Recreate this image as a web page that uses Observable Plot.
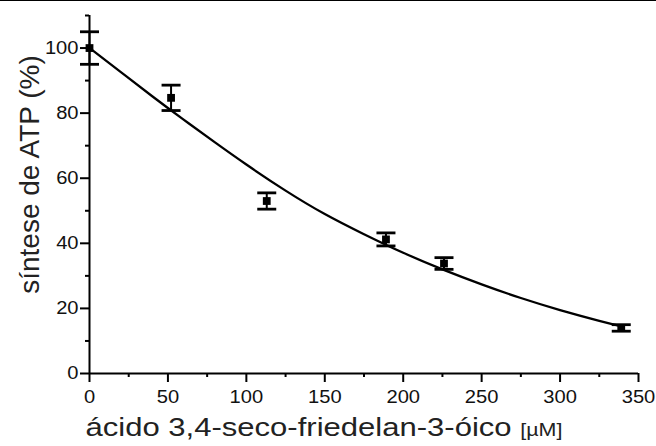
<!DOCTYPE html>
<html><head><meta charset="utf-8">
<script src="https://cdn.jsdelivr.net/npm/d3@7"></script>
<script src="https://cdn.jsdelivr.net/npm/@observablehq/plot@0.6"></script>
<style>
html,body{margin:0;padding:0;background:#fff;}
#chart{width:656px;height:445px;border-top:1px solid #000;}
svg{display:block;}
</style></head><body><div id="chart"></div>
<script>
const concentration = [0, 52, 113, 189, 226, 339];
const atpSynthesis = [100, 84.7, 53, 41.2, 33.8, 14];
const stdError = [5, 3.9, 2.5, 2, 1.8, 1];
const fitConcentration = [0, 20, 40, 60, 80, 100, 125, 150, 175, 200, 225, 250, 275, 300, 325, 340];
const fitSynthesis = [100, 92.6, 85.2, 78, 71, 64.2, 56.2, 49, 42.8, 37.1, 32, 27.4, 23.2, 19.5, 16.2, 14.4];
const xTicks = [0, 50, 100, 150, 200, 250, 300, 350];
const xMinorTicks = [25, 75, 125, 175, 225, 275, 325];
const yTicks = [0, 20, 40, 60, 80, 100];
const yMinorTicks = [10, 30, 50, 70, 90, 110];
const xLabel = "ácido 3,4-seco-friedelan-3-óico";
const xUnit = "[µM]";
const yLabel = "síntese de ATP (%)";

const points = concentration.map((x, i) => ({x, y: atpSynthesis[i], lo: atpSynthesis[i] - stdError[i], hi: atpSynthesis[i] + stdError[i]}));
const fit = fitConcentration.map((x, i) => ({x, y: fitSynthesis[i]}));

const cap = {draw(ctx, size) { const r = Math.sqrt(size / Math.PI); ctx.moveTo(-r, 0); ctx.lineTo(r, 0); }};

const plot = Plot.plot({
  width: 656, height: 445,
  marginLeft: 89, marginRight: 18, marginTop: 14, marginBottom: 73,
  style: {fontFamily: "'Liberation Sans', Arial, sans-serif", color: "#000", background: "#fff"},
  x: {domain: [0, 350]},
  y: {domain: [0, 110]},
  marks: [
    Plot.axisX({ticks: xTicks, tickSize: 9, tickPadding: 8, strokeWidth: 2, fontSize: 17.5, label: null, fill: "#111"}),
    Plot.axisX({ticks: xMinorTicks, tickSize: 4, strokeWidth: 2, tickFormat: () => "", label: null}),
    Plot.axisY({ticks: yTicks, tickSize: 9, tickPadding: 2, strokeWidth: 2, fontSize: 17.5, label: null, fill: "#111"}),
    Plot.axisY({ticks: yMinorTicks, tickSize: 4, strokeWidth: 2, tickFormat: () => "", label: null}),
    Plot.line(fit, {x: "x", y: "y", curve: "natural", strokeWidth: 2.3, stroke: "#000"}),
    Plot.ruleX(points, {x: "x", y1: "lo", y2: "hi", strokeWidth: 2, stroke: "#000"}),
    Plot.dot(points, {x: "x", y: "hi", symbol: cap, r: 9.5, stroke: "#000", strokeWidth: 2.8}),
    Plot.dot(points, {x: "x", y: "lo", symbol: cap, r: 9.5, stroke: "#000", strokeWidth: 2.8}),
    Plot.dot(points, {x: "x", y: "y", symbol: "square", r: 4.4, fill: "#000", stroke: null}),
    Plot.ruleX([0], {strokeWidth: 2, stroke: "#000"}),
    Plot.ruleY([0], {strokeWidth: 2, stroke: "#000"}),
    Plot.text([yLabel], {text: d => d, frameAnchor: "left", textAnchor: "middle", rotate: -90, dx: -59, dy: -20, fontSize: 28, fill: "#222"}),
    Plot.text([xLabel], {text: d => d, frameAnchor: "bottom", textAnchor: "middle", dx: -40, dy: 62, fontSize: 26, fill: "#222"})
  ]
});
document.getElementById("chart").append(plot);

const stretch = 1.15;
const tickStrings = new Set([...xTicks, ...yTicks].map(String));
plot.querySelectorAll("text").forEach(t => {
  const s = t.textContent;
  if (tickStrings.has(s)) {
    const w = t.getComputedTextLength();
    if (w > 0) { t.setAttribute("textLength", w * stretch); t.setAttribute("lengthAdjust", "spacingAndGlyphs"); }
  } else if (s === xLabel) {
    t.textContent = xLabel + " ";
    const ts = document.createElementNS("http://www.w3.org/2000/svg", "tspan");
    ts.setAttribute("font-size", "18");
    ts.textContent = xUnit;
    t.appendChild(ts);
    t.setAttribute("textLength", 477);
    t.setAttribute("lengthAdjust", "spacingAndGlyphs");
  }
});
</script></body></html>
